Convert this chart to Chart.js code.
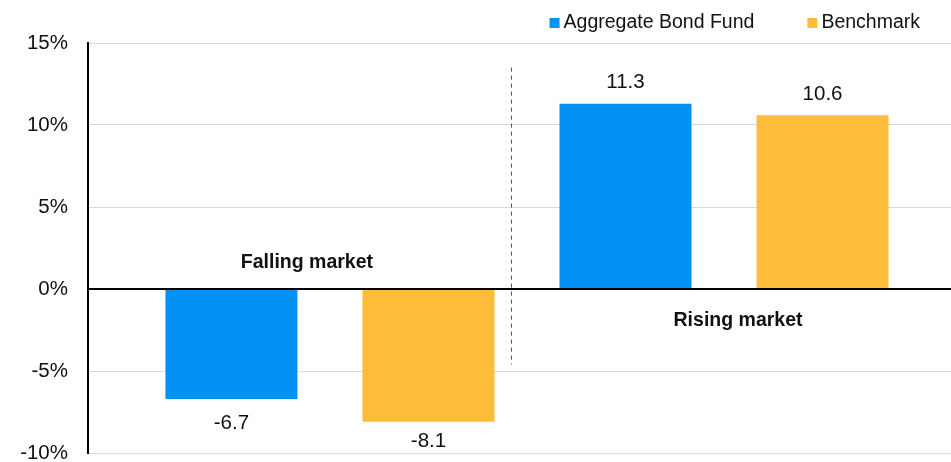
<!DOCTYPE html>
<html>
<head>
<meta charset="utf-8">
<script src="https://cdn.jsdelivr.net/npm/chart.js@4.4.0/dist/chart.umd.min.js"></script>
<style>
  html, body { margin: 0; padding: 0; background: #fff; }
  canvas { display: block; }
</style>
</head>
<body>
<canvas id="returns-chart" width="951" height="462"></canvas>
<script>
const markets = ['Falling market', 'Rising market']
const seriesNames = ['Aggregate Bond Fund', 'Benchmark']
const fundReturns = [-6.7, 11.3]
const benchmarkReturns = [-8.1, 10.6]
const yTicks = [-10, -5, 0, 5, 10, 15]

const COLORS = {
  blue: '#0391F3',
  orange: '#FDBC3A',
  text: '#111111',
  grid: '#d9d9d9'
}
const FONT = '"Liberation Sans", Arial, sans-serif'

// markets sit at x = 0 and 1 on a linear axis so the y axis can start further left
const toPoints = values => values.map((v, i) => ({ x: i, y: v }))

// value labels above positive bars, below negative ones (kept inside the plot)
const valueLabels = {
  id: 'valueLabels',
  afterDatasetsDraw(chart) {
    const { ctx, chartArea } = chart
    ctx.save()
    ctx.font = '20.5px ' + FONT
    ctx.fillStyle = COLORS.text
    ctx.textAlign = 'center'
    ctx.textBaseline = 'middle'
    chart.data.datasets.forEach((ds, i) => {
      chart.getDatasetMeta(i).data.forEach((bar, j) => {
        const v = ds.data[j].y
        const y = v >= 0 ? bar.y - 21 : Math.min(bar.y + 24, chartArea.bottom - 12)
        ctx.fillText(v.toFixed(1), bar.x, y)
      })
    })
    ctx.restore()
  }
}

// zero line, dashed divider between the markets and the market names
const marketMarkers = {
  id: 'marketMarkers',
  afterDatasetsDraw(chart, args, opts) {
    const { ctx, chartArea, scales: { x, y } } = chart
    const zero = y.getPixelForValue(0)
    ctx.save()

    ctx.strokeStyle = '#000'
    ctx.lineWidth = 2
    ctx.beginPath()
    ctx.moveTo(chartArea.left, zero)
    ctx.lineTo(chartArea.right, zero)
    ctx.stroke()

    const dx = Math.round(x.getPixelForValue(opts.dividerAt)) + 0.5
    ctx.strokeStyle = '#555'
    ctx.lineWidth = 1
    ctx.setLineDash([4, 4])
    ctx.beginPath()
    ctx.moveTo(dx, y.getPixelForValue(opts.dividerFrom))
    ctx.lineTo(dx, y.getPixelForValue(opts.dividerTo))
    ctx.stroke()
    ctx.setLineDash([])

    ctx.font = 'bold 19.5px ' + FONT
    ctx.fillStyle = COLORS.text
    ctx.textAlign = 'center'
    ctx.textBaseline = 'middle'
    markets.forEach((name, i) => {
      const below = fundReturns[i] > 0
      const ty = below ? zero + 32 : zero - 26
      ctx.fillText(name, x.getPixelForValue(i) + opts.nudge[i], ty)
    })
    ctx.restore()
  }
}

// square-marker legend, right aligned along the top
const topLegend = {
  id: 'topLegend',
  afterDraw(chart) {
    const { ctx } = chart
    ctx.save()
    ctx.font = '19.5px ' + FONT
    ctx.textBaseline = 'middle'
    ctx.textAlign = 'left'
    const box = 10, gap = 4, spacing = 53, cy = 23
    const widths = chart.data.datasets.map(ds => box + gap + ctx.measureText(ds.label).width)
    const total = widths.reduce((a, b) => a + b, 0) + spacing * (widths.length - 1)
    let x = chart.width - 31 - total
    chart.data.datasets.forEach((ds, i) => {
      ctx.fillStyle = ds.backgroundColor
      ctx.fillRect(x, cy - box / 2, box, box)
      ctx.fillStyle = COLORS.text
      ctx.fillText(ds.label, x + box + gap, cy)
      x += widths[i] + spacing
    })
    ctx.restore()
  }
}

const data = {
  datasets: [
    {
      label: seriesNames[0],
      data: toPoints(fundReturns),
      backgroundColor: COLORS.blue
    },
    {
      label: seriesNames[1],
      data: toPoints(benchmarkReturns),
      backgroundColor: COLORS.orange
    }
  ]
}

const config = {
  type: 'bar',
  data: data,
  options: {
    responsive: false,
    animation: false,
    layout: {
      padding: { top: 43, left: 21, right: 0, bottom: 9 }
    },
    datasets: {
      bar: {
        categoryPercentage: 1,
        barPercentage: 0.67
      }
    },
    plugins: {
      legend: { display: false },
      tooltip: { enabled: false },
      marketMarkers: {
        dividerAt: 0.46,
        dividerFrom: 13.5,
        dividerTo: -4.6,
        nudge: [-23, 14]
      }
    },
    scales: {
      x: {
        type: 'linear',
        min: -0.614,
        max: 1.576,
        offset: false,
        display: false,
        // one tick per market keeps the bar width tied to the market spacing
        afterBuildTicks: scale => {
          scale.ticks = [{ value: 0 }, { value: 1 }]
        }
      },
      y: {
        min: -10,
        max: 15,
        afterBuildTicks: scale => {
          scale.ticks = yTicks.map(v => ({ value: v }))
        },
        afterFit: scale => {
          scale.width = 67
          scale.paddingTop = 0
          scale.paddingBottom = 0
        },
        ticks: {
          padding: 20,
          color: COLORS.text,
          font: { family: FONT, size: 20.5 },
          callback: v => v + '%'
        },
        grid: {
          drawTicks: false,
          color: ctx => ctx.tick && ctx.tick.value === 0 ? 'rgba(0,0,0,0)' : COLORS.grid,
          lineWidth: 1
        },
        border: { display: true, color: '#000', width: 2 }
      }
    }
  },
  plugins: [valueLabels, marketMarkers, topLegend]
}

const ctx = document.getElementById('returns-chart')
const returnsChart = new Chart(ctx, config)
</script>
</body>
</html>
